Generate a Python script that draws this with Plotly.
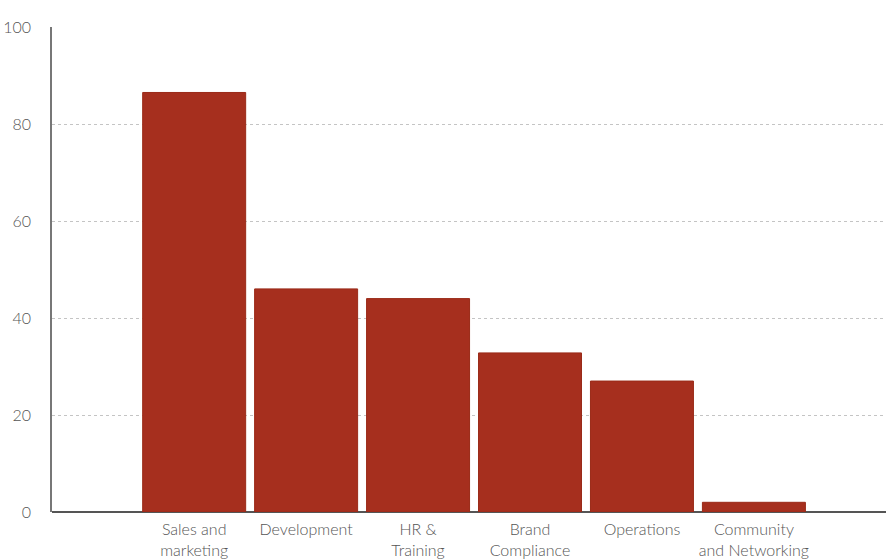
import plotly.graph_objects as go

categories = ["Sales and<br>marketing", "Development", "HR &<br>Training",
              "Brand<br>Compliance", "Operations", "Community<br>and Networking"]
values = [86.5, 46, 44, 32.8, 27, 2]
y_ticks = [0, 20, 40, 60, 80, 100]

positions = list(range(len(categories)))

fig = go.Figure(
    go.Bar(
        x=positions,
        y=values,
        width=0.92,
        marker=dict(color="#A62F1E", line=dict(color="#9A2A18", width=1)),
    )
)

fig.update_layout(
    width=886,
    height=560,
    margin=dict(l=52, r=0, t=27, b=48),
    paper_bgcolor="white",
    plot_bgcolor="white",
    showlegend=False,
    font=dict(family="Lato", color="#555555"),
)

fig.update_xaxes(
    range=[-1.27, 6.18],
    tickmode="array",
    tickvals=positions,
    ticktext=categories,
    tickfont=dict(size=16, color="#555555", weight=300),
    ticklabelstandoff=6,
    showgrid=False,
    zeroline=False,
    showline=False,
    ticks="",
    automargin=False,
)

fig.update_yaxes(
    range=[0, 100],
    tickmode="array",
    tickvals=y_ticks,
    ticktext=[str(v) for v in y_ticks],
    tickfont=dict(size=16, color="#555555", weight=300),
    ticklabelstandoff=16,
    showgrid=True,
    gridcolor="#c4c4c4",
    gridwidth=1,
    griddash="dot",
    zeroline=True,
    zerolinecolor="#555555",
    zerolinewidth=1.5,
    showline=True,
    linecolor="#777777",
    linewidth=1.5,
    ticks="",
    automargin=False,
)

fig.write_html("out.html")
